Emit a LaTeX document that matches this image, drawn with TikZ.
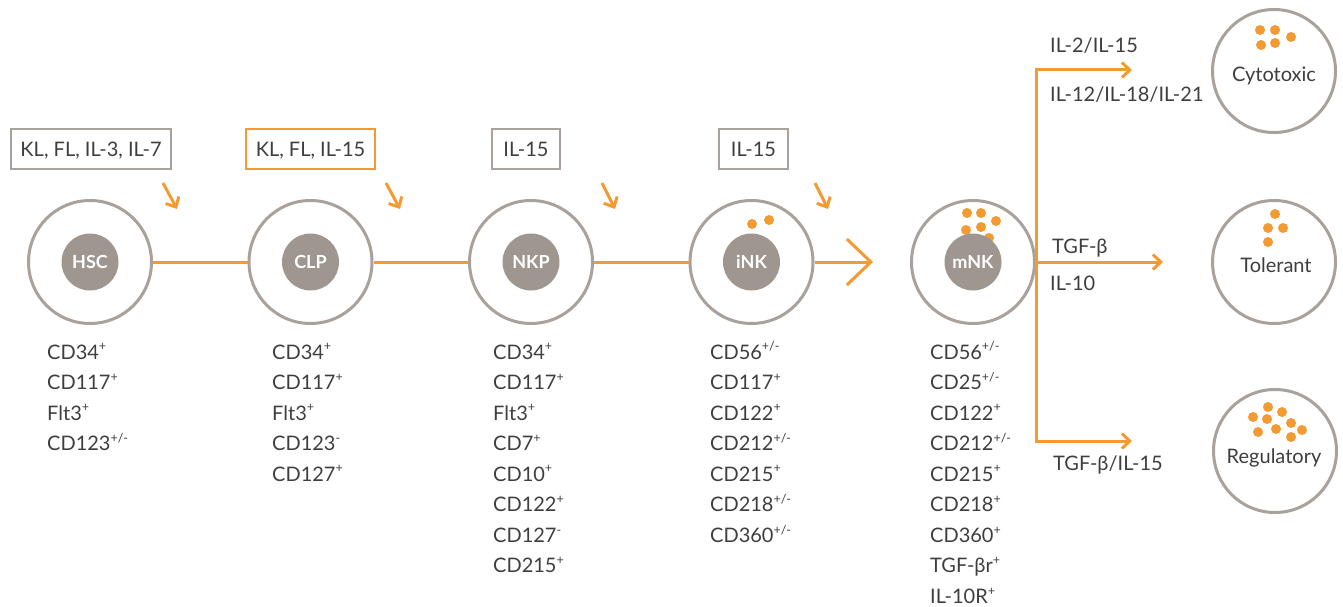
\documentclass[tikz,border=0pt]{standalone}
\usepackage{fontspec}
\setmainfont{Lato}
\usetikzlibrary{arrows.meta}
\definecolor{nkorange}{HTML}{F39A32}
\definecolor{nkgrey}{HTML}{A9A29C}
\definecolor{nkcore}{HTML}{9E968F}
\definecolor{nktext}{HTML}{3E3E3E}
\newcommand\expr[1]{\raisebox{0.42em}{\fontsize{12.5}{12.5}\selectfont #1}}

\begin{document}
\begin{tikzpicture}[x=1pt,y=-1pt,
  cell/.style={circle, draw=nkgrey, line width=3pt, fill=white, minimum size=123pt, inner sep=0pt},
  core/.style={circle, fill=nkcore, minimum size=57pt, inner sep=0pt, text=white,
    font=\fontsize{18}{18}\bfseries\selectfont, text height=13pt, text depth=0pt},
  fate/.style={circle, draw=nkgrey, line width=3pt, fill=white, minimum size=123pt, inner sep=0pt},
  link/.style={draw=nkorange, line width=3pt},
  tip/.style={-{Straight Barb[length=8pt,width=15pt]}},
  cue/.style={draw=nkgrey, line width=2.5pt, minimum height=40pt, inner sep=0pt,
    text height=15pt, text depth=0pt, font=\fontsize{20}{20}\selectfont, text=nktext},
  mkr/.style={anchor=base west, inner sep=0pt, font=\fontsize{20}{24}\selectfont, text=nktext},
  lbl/.style={inner sep=0pt, font=\fontsize{20}{24}\selectfont, text=nktext},
  dotc/.style={fill=nkorange}]
\useasboundingbox (0,0) rectangle (1343,607);

% --- developmental stages ---
\node[cell] (hsc) at (90,262) {};
\node[core] (hsc-c) at (hsc) {HSC};
\node[cell] (clp) at (310.5,262) {};
\node[core] (clp-c) at (clp) {CLP};
\node[cell] (nkp) at (531,262) {};
\node[core] (nkp-c) at (nkp) {NKP};
\node[cell] (ink) at (751.5,262) {};
\foreach \p in {(752,224),(769,220)} \fill[dotc] \p circle (5);
\node[core] (ink-c) at (ink) {iNK};
\node[cell] (mnk) at (973,262) {};
\foreach \p in {(967,213),(981,213),(996,221),(966,230),(981,227),(989,238)} \fill[dotc] \p circle (5);
\node[core] (mnk-c) at (mnk) {mNK};

% --- links between stages ---
\draw[link] (hsc) -- (clp);
\draw[link] (clp) -- (nkp);
\draw[link] (nkp) -- (ink);
\coordinate (ink-head) at (873,262);
\draw[link, -{Straight Barb[length=24pt,width=46pt]}] (ink) -- (ink-head);

% --- cytokine cues ---
\node[cue, minimum width=160pt] (hsc-cue) at (91,149) {KL, FL, IL-3, IL-7};
\node[cue, draw=nkorange, minimum width=129pt] (clp-cue) at (310.5,149) {KL, FL, IL-15};
\node[cue, minimum width=68pt] (nkp-cue) at (526,149) {IL-15};
\node[cue, minimum width=69pt] (ink-cue) at (753.5,149) {IL-15};

\coordinate (hsc-s) at (163,183); \coordinate (hsc-e) at (177,209);
\coordinate (clp-s) at (386,183); \coordinate (clp-e) at (400,209);
\coordinate (nkp-s) at (602,183); \coordinate (nkp-e) at (615,209);
\coordinate (ink-s) at (815,183); \coordinate (ink-e) at (828,209);
\draw[link,tip] (hsc-s) -- (hsc-e);
\draw[link,tip] (clp-s) -- (clp-e);
\draw[link,tip] (nkp-s) -- (nkp-e);
\draw[link,tip] (ink-s) -- (ink-e);

% --- surface markers ---
\foreach \t [count=\i from 0] in {CD34\expr{+},CD117\expr{+},Flt3\expr{+},CD123\expr{+/-}}
  \node[mkr] (hsc-m\i) at (47,359+30.57*\i) {\t};
\foreach \t [count=\i from 0] in {CD34\expr{+},CD117\expr{+},Flt3\expr{+},CD123\expr{-},CD127\expr{+}}
  \node[mkr] (clp-m\i) at (272,359+30.57*\i) {\t};
\foreach \t [count=\i from 0] in {CD34\expr{+},CD117\expr{+},Flt3\expr{+},CD7\expr{+},CD10\expr{+},CD122\expr{+},CD127\expr{-},CD215\expr{+}}
  \node[mkr] (nkp-m\i) at (493,359+30.57*\i) {\t};
\foreach \t [count=\i from 0] in {CD56\expr{+/-},CD117\expr{+},CD122\expr{+},CD212\expr{+/-},CD215\expr{+},CD218\expr{+/-},CD360\expr{+/-}}
  \node[mkr] (ink-m\i) at (710,359+30.57*\i) {\t};
\foreach \t [count=\i from 0] in {CD56\expr{+/-},CD25\expr{+/-},CD122\expr{+},CD212\expr{+/-},CD215\expr{+},CD218\expr{+},CD360\expr{+},TGF-βr\expr{+},IL-10R\expr{+}}
  \node[mkr] (mnk-m\i) at (930,359+30.57*\i) {\t};

% --- functional fates ---
\node[fate] (cyto) at (1274,71) {};
\foreach \p in {(1260,30),(1275,30),(1291,37),(1261,45),(1275,43)} \fill[dotc] \p circle (5);
\node[lbl, anchor=base] (cyto-l) at (1274,82) {Cytotoxic};
\node[fate] (tol) at (1274,262) {};
\foreach \p in {(1275,214),(1268,228),(1283,228),(1268,242)} \fill[dotc] \p circle (5);
\node[lbl, anchor=base] (tol-l) at (1276,272) {Tolerant};
\node[fate] (reg) at (1275,451) {};
\foreach \p in {(1268,407),(1253,417),(1267,419),(1282,412),(1291,423),(1258,432),(1276,429),(1291,437),(1302,430)} \fill[dotc] \p circle (5);
\node[lbl, anchor=base] (reg-l) at (1274,463) {Regulatory};

% --- branching from mature NK ---
\coordinate (fork-t) at (1036,70);
\coordinate (fork-b) at (1036,441);
\coordinate (to-cyto) at (1132,70);
\coordinate (to-tol) at (1163,262);
\coordinate (to-reg) at (1132,441);
\draw[link,tip] (fork-b) |- (to-cyto);
\draw[link,tip] (fork-t) |- (to-reg);
\draw[link,tip] (mnk) -- (to-tol);

\node[lbl, anchor=base west] (l-cyto1) at (1050,53) {IL-2/IL-15};
\node[lbl, anchor=base west] (l-cyto2) at (1050,102) {IL-12/IL-18/IL-21};
\node[lbl, anchor=base west] (l-tol1) at (1052,253) {TGF-β};
\node[lbl, anchor=base west] (l-tol2) at (1050,290) {IL-10};
\node[lbl, anchor=base west] (l-reg) at (1053,470) {TGF-β/IL-15};
\end{tikzpicture}
\end{document}
